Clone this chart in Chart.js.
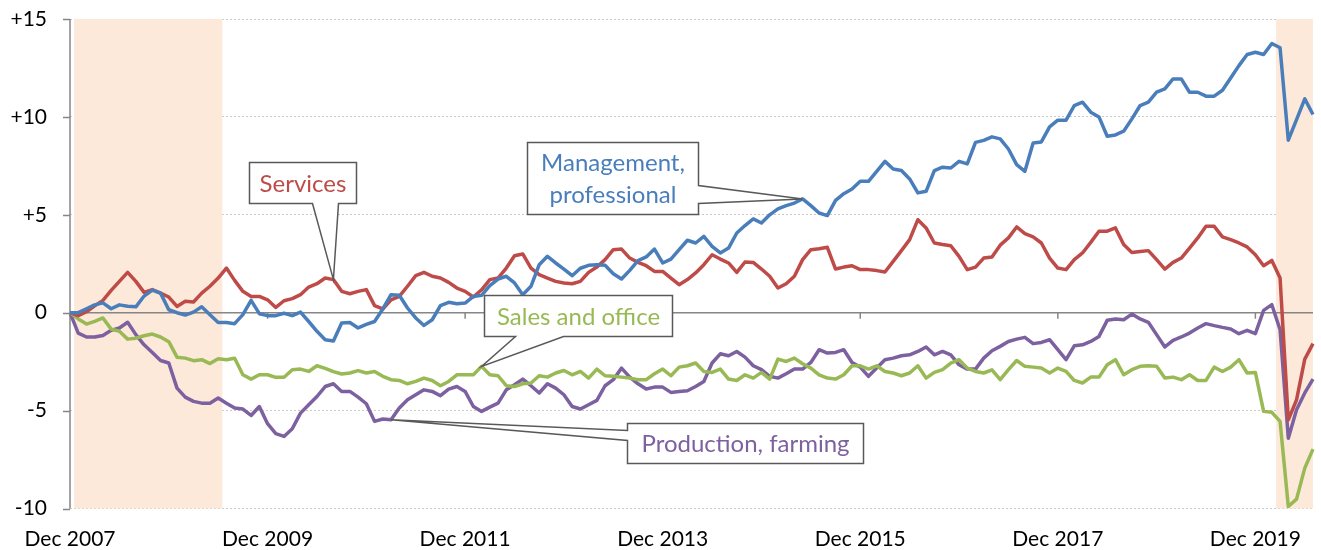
<!DOCTYPE html>
<html>
<head>
<meta charset="utf-8">
<script src="https://cdn.jsdelivr.net/npm/chart.js@4.4.0/dist/chart.umd.min.js"></script>
<style>
  html, body { margin: 0; padding: 0; background: #fff; }
</style>
</head>
<body>
<canvas id="chart" width="1321" height="550"></canvas>
<script>
// monthly categories, Dec 2007 .. Jul 2020
var monthNames = ['Jan','Feb','Mar','Apr','May','Jun','Jul','Aug','Sep','Oct','Nov','Dec'];
var months = [];
for (var m = 11 + 2007 * 12; m <= 6 + 2020 * 12; m++) {
    months.push(monthNames[m % 12] + ' ' + Math.floor(m / 12));
}

var xTickLabels = ['Dec 2007', 'Dec 2009', 'Dec 2011', 'Dec 2013', 'Dec 2015', 'Dec 2017', 'Dec 2019'];
var yTicks = [-10, -5, 0, 5, 10, 15];

// shaded recessions
var recessionStart = ['Jan 2008', 'Mar 2020'];
var recessionEnd = ['Jun 2009', 'Jul 2020'];

var seriesNames = ['Management, professional', 'Services', 'Sales and office', 'Production, farming'];

var management = [
    0, 0.0, 0.2, 0.4, 0.5, 0.2, 0.4, 0.33, 0.3, 0.85, 1.15, 1.0, 0.15, 0.0, -0.12, 0.03, 0.3, -0.1, -0.5, -0.5,
    -0.56, -0.1, 0.63, -0.05, -0.15, -0.15, -0.03, -0.15, 0.03, -0.45, -0.95, -1.38, -1.44, -0.53, -0.5, -0.78, -0.6, -0.45, 0.19, 0.92,
    0.89, 0.24, -0.27, -0.65, -0.36, 0.36, 0.53, 0.46, 0.49, 0.83, 0.89, 1.38, 1.72, 1.86, 1.52, 0.92, 1.35, 2.45, 2.88, 2.54,
    2.23, 1.89, 2.27, 2.42, 2.45, 2.42, 1.99, 1.72, 2.16, 2.66, 2.85, 3.25, 2.54, 2.74, 3.22, 3.7, 3.56, 3.9, 3.39, 3.05,
    3.3, 4.07, 4.45, 4.79, 4.58, 5.0, 5.3, 5.47, 5.6, 5.81, 5.47, 5.09, 4.96, 5.74, 6.08, 6.32, 6.71, 6.71, 7.22, 7.73,
    7.34, 7.26, 6.83, 6.12, 6.2, 7.26, 7.43, 7.39, 7.73, 7.6, 8.7, 8.8, 8.98, 8.88, 8.36, 7.56, 7.22, 8.67, 8.72, 9.49,
    9.83, 9.83, 10.58, 10.75, 10.24, 10.0, 9.01, 9.08, 9.27, 9.9, 10.58, 10.75, 11.26, 11.43, 11.94, 11.94, 11.26, 11.26, 11.06, 11.06,
    11.36, 11.99, 12.62, 13.19, 13.3, 13.19, 13.75, 13.53, 8.81, 9.86, 10.92, 10.12
];

var services = [
    0, -0.15, 0.05, 0.35, 0.63, 1.14, 1.6, 2.06, 1.6, 1.04, 1.18, 1.0, 0.8, 0.32, 0.58, 0.55, 1.0, 1.35, 1.77, 2.28,
    1.65, 1.09, 0.83, 0.83, 0.66, 0.27, 0.61, 0.72, 0.92, 1.31, 1.48, 1.77, 1.69, 1.09, 0.97, 1.09, 1.18, 0.36, 0.19, 0.66,
    0.83, 1.35, 1.89, 2.06, 1.86, 1.77, 1.55, 1.26, 1.09, 0.8, 1.17, 1.69, 1.77, 2.28, 2.91, 3.0, 2.28, 1.94, 1.77, 1.6,
    1.52, 1.48, 1.6, 2.06, 2.33, 2.71, 3.22, 3.25, 2.79, 2.57, 2.4, 2.11, 2.11, 1.77, 1.43, 1.69, 2.03, 2.45, 2.96, 2.74,
    2.54, 2.06, 2.59, 2.57, 2.23, 1.86, 1.26, 1.48, 1.86, 2.71, 3.22, 3.27, 3.34, 2.23, 2.33, 2.4, 2.2, 2.2, 2.15, 2.08,
    2.62, 3.17, 3.73, 4.75, 4.33, 3.56, 3.48, 3.42, 2.88, 2.2, 2.33, 2.79, 2.85, 3.45, 3.82, 4.38, 4.04, 3.87, 3.56, 2.79,
    2.28, 2.2, 2.71, 3.05, 3.59, 4.16, 4.16, 4.33, 3.48, 3.08, 3.13, 3.17, 2.71, 2.23, 2.57, 2.79, 3.3, 3.82, 4.41, 4.41,
    3.87, 3.73, 3.56, 3.36, 2.96, 2.4, 2.67, 1.77, -5.47, -4.45, -2.37, -1.58
];

var salesOffice = [
    0, -0.32, -0.58, -0.44, -0.27, -0.84, -0.95, -1.35, -1.3, -1.18, -1.09, -1.24, -1.48, -2.27, -2.32, -2.45, -2.4, -2.6, -2.35, -2.4,
    -2.33, -3.17, -3.39, -3.17, -3.17, -3.3, -3.3, -2.91, -2.88, -3.0, -2.71, -2.84, -3.01, -3.13, -3.08, -2.96, -3.08, -3.0, -3.25, -3.42,
    -3.46, -3.63, -3.51, -3.34, -3.46, -3.73, -3.51, -3.17, -3.17, -3.17, -2.74, -3.17, -3.22, -3.73, -3.77, -3.63, -3.59, -3.22, -3.29, -3.08,
    -2.95, -3.17, -3.0, -3.34, -2.88, -3.22, -3.25, -3.29, -3.34, -3.42, -3.42, -3.12, -2.88, -3.22, -2.78, -2.71, -2.57, -3.0, -3.05, -2.88,
    -3.39, -3.46, -3.17, -3.34, -3.05, -3.39, -2.37, -2.49, -2.32, -2.61, -2.83, -3.17, -3.34, -3.39, -3.17, -2.71, -2.71, -2.88, -2.71, -3.0,
    -3.08, -3.22, -3.08, -2.71, -3.34, -3.05, -2.91, -2.57, -2.4, -2.83, -3.0, -3.08, -2.92, -3.42, -2.91, -2.44, -2.74, -2.78, -2.83, -3.08,
    -2.83, -3.0, -3.46, -3.59, -3.29, -3.29, -2.66, -2.4, -3.17, -2.91, -2.74, -2.71, -2.74, -3.34, -3.29, -3.42, -3.17, -3.46, -3.46, -2.78,
    -3.0, -2.78, -2.4, -3.08, -3.05, -5.04, -5.09, -5.55, -9.9, -9.52, -7.94, -6.97
];

var production = [
    0, -1.04, -1.24, -1.24, -1.16, -0.9, -0.78, -0.49, -1.12, -1.64, -2.03, -2.44, -2.57, -3.85, -4.31, -4.53, -4.62, -4.62, -4.36, -4.62,
    -4.87, -4.92, -5.25, -4.79, -5.67, -6.18, -6.32, -5.93, -5.13, -4.7, -4.28, -3.77, -3.63, -4.02, -4.02, -4.31, -4.65, -5.55, -5.43, -5.47,
    -4.87, -4.45, -4.19, -3.94, -4.02, -4.24, -3.9, -3.77, -4.02, -4.79, -5.04, -4.82, -4.62, -3.94, -3.68, -3.39, -3.73, -4.1, -3.63, -3.85,
    -4.19, -4.79, -4.92, -4.7, -4.48, -3.73, -3.42, -2.83, -3.29, -3.63, -3.9, -3.8, -3.8, -4.07, -4.03, -3.99, -3.77, -3.51, -2.57, -2.1,
    -2.2, -1.98, -2.27, -2.71, -2.91, -3.25, -3.34, -3.12, -2.88, -2.88, -2.54, -1.89, -2.06, -2.03, -1.89, -2.54, -2.78, -3.25, -2.83, -2.4,
    -2.32, -2.2, -2.15, -1.98, -1.75, -2.15, -1.98, -2.15, -2.66, -2.88, -2.88, -2.32, -1.94, -1.72, -1.47, -1.35, -1.26, -1.58, -1.52, -1.38,
    -1.89, -2.4, -1.69, -1.64, -1.47, -1.21, -0.39, -0.32, -0.36, -0.07, -0.32, -0.49, -1.12, -1.75, -1.41, -1.24, -1.04, -0.78, -0.56, -0.66,
    -0.75, -0.83, -1.07, -0.9, -1.07, 0.12, 0.41, -0.87, -6.41, -4.96, -4.1, -3.39
];

var colors = ['#4A7EBB', '#BE4B48', '#98B954', '#7D60A0'];
var axisGray = '#868686';
var FONT = 'Lato, "Open Sans", sans-serif';

// callout boxes: centre in (month index, value), size in px, wedge towards a series point
var callouts = [
    { lines: ['Services'], series: 1, index: 32, at: [28.2, 6.65], w: 107, h: 41, side: 'bottom', a: 63, b: 89 },
    { lines: ['Management,', 'professional'], series: 0, index: 89, at: [65.9, 6.9], w: 171, h: 72, side: 'right', a: 43, b: 61 },
    { lines: ['Sales and office'], series: 2, index: 50, at: [61.7, -0.12], w: 188, h: 41, side: 'bottom', a: 31, b: 79 },
    { lines: ['Production, farming'], series: 3, index: 39, at: [82.0, -6.65], w: 236, h: 40, side: 'left', a: 7, b: 17 }
];

var backdrop = {
    id: 'backdrop',
    beforeDatasetsDraw: function (chart) {
        var ctx = chart.ctx, area = chart.chartArea;
        var xs = chart.scales.x, ys = chart.scales.y;
        ctx.save();
        ctx.fillStyle = '#FCE9DA';
        for (var i = 0; i < recessionStart.length; i++) {
            var x1 = Math.max(area.left, xs.getPixelForValue(months.indexOf(recessionStart[i]) - 0.5));
            var x2 = Math.min(area.right, xs.getPixelForValue(months.indexOf(recessionEnd[i]) + 0.5));
            ctx.fillRect(x1, area.top, x2 - x1, area.bottom - area.top);
        }
        ctx.strokeStyle = axisGray;
        ctx.lineWidth = 1.5;
        ctx.beginPath();
        // zero line with small ticks at the labelled months
        var y0 = ys.getPixelForValue(0);
        ctx.moveTo(area.left, y0);
        ctx.lineTo(area.right, y0);
        for (var k = 1; k < xTickLabels.length; k++) {
            var tx = xs.getPixelForValue(months.indexOf(xTickLabels[k]));
            ctx.moveTo(tx, y0);
            ctx.lineTo(tx, y0 + 6);
        }
        // y axis line and its tick marks
        ctx.moveTo(area.left, area.top);
        ctx.lineTo(area.left, area.bottom);
        yTicks.forEach(function (v) {
            var ty = Math.round(ys.getPixelForValue(v)) + 0.5;
            ctx.moveTo(area.left - 7, ty);
            ctx.lineTo(area.left, ty);
        });
        ctx.stroke();
        ctx.restore();
    },
    afterDatasetsDraw: function (chart) {
        var ctx = chart.ctx;
        var xs = chart.scales.x, ys = chart.scales.y;
        ctx.save();
        callouts.forEach(function (c) {
            var cx = xs.getPixelForValue(c.at[0]), cy = ys.getPixelForValue(c.at[1]);
            var L = Math.round(cx - c.w / 2) + 0.5, T = Math.round(cy - c.h / 2) + 0.5;
            var R = L + c.w, B = T + c.h;
            var p = chart.getDatasetMeta(c.series).data[c.index];
            ctx.beginPath();
            ctx.moveTo(L, T);
            ctx.lineTo(R, T);
            if (c.side === 'right') {
                ctx.lineTo(R, T + c.a);
                ctx.lineTo(p.x, p.y);
                ctx.lineTo(R, T + c.b);
            }
            ctx.lineTo(R, B);
            if (c.side === 'bottom') {
                ctx.lineTo(L + c.b, B);
                ctx.lineTo(p.x, p.y);
                ctx.lineTo(L + c.a, B);
            }
            ctx.lineTo(L, B);
            if (c.side === 'left') {
                ctx.lineTo(L, T + c.b);
                ctx.lineTo(p.x, p.y);
                ctx.lineTo(L, T + c.a);
            }
            ctx.closePath();
            ctx.fillStyle = '#fff';
            ctx.fill();
            ctx.strokeStyle = '#595959';
            ctx.lineWidth = 1.5;
            ctx.lineJoin = 'miter';
            ctx.stroke();

            ctx.fillStyle = colors[c.series];
            ctx.font = '24px ' + FONT;
            ctx.textAlign = 'center';
            ctx.textBaseline = 'middle';
            var lh = 32;
            var y = (T + B) / 2 - (c.lines.length - 1) * lh / 2;
            c.lines.forEach(function (line, j) {
                ctx.fillText(line, (L + R) / 2, y + j * lh + 1);
            });
        });
        ctx.restore();
    }
};

var seriesData = [management, services, salesOffice, production];
var datasets = seriesData.map(function (d, i) {
    return {
        label: seriesNames[i],
        data: d,
        borderColor: colors[i],
        backgroundColor: colors[i],
        borderWidth: 3.5,
        pointRadius: 0,
        tension: 0,
        fill: false,
        borderJoinStyle: 'round'
    };
});

var chart = new Chart(document.getElementById('chart').getContext('2d'), {
    type: 'line',
    data: { labels: months, datasets: datasets },
    plugins: [backdrop],
    options: {
        responsive: false,
        animation: false,
        layout: { padding: { left: 0, right: 8, top: 19, bottom: 0 } },
        plugins: { legend: { display: false }, tooltip: { enabled: false } },
        scales: {
            x: {
                // invisible tick marks only push the labels down
                grid: { display: true, drawOnChartArea: false, drawTicks: true, tickLength: 18, tickColor: 'rgba(0,0,0,0)' },
                border: { display: false },
                ticks: {
                    autoSkip: false,
                    maxRotation: 0,
                    minRotation: 0,
                    padding: 0,
                    color: '#000',
                    font: { family: FONT, size: 21 },
                    callback: function (val) {
                        var l = this.getLabelForValue(val);
                        return xTickLabels.indexOf(l) >= 0 ? l : '';
                    }
                },
                afterFit: function (s) { s.height = 41.5; }
            },
            y: {
                min: yTicks[0],
                max: yTicks[yTicks.length - 1],
                afterBuildTicks: function (s) { s.ticks = yTicks.map(function (v) { return { value: v }; }); },
                ticks: {
                    padding: 2,
                    color: '#000',
                    font: { family: FONT, size: 21 },
                    callback: function (v) { return v > 0 ? '+' + v : String(v); }
                },
                grid: {
                    color: function (ctx) { return ctx.tick && ctx.tick.value === 0 ? 'rgba(0,0,0,0)' : '#C9C9C9'; },
                    lineWidth: 1,
                    drawTicks: true,
                    tickLength: 21,
                    tickColor: 'rgba(0,0,0,0)'
                },
                border: { display: false, dash: [2, 2] },
                afterFit: function (s) { s.width = 70; }
            }
        }
    }
});
</script>
</body>
</html>
